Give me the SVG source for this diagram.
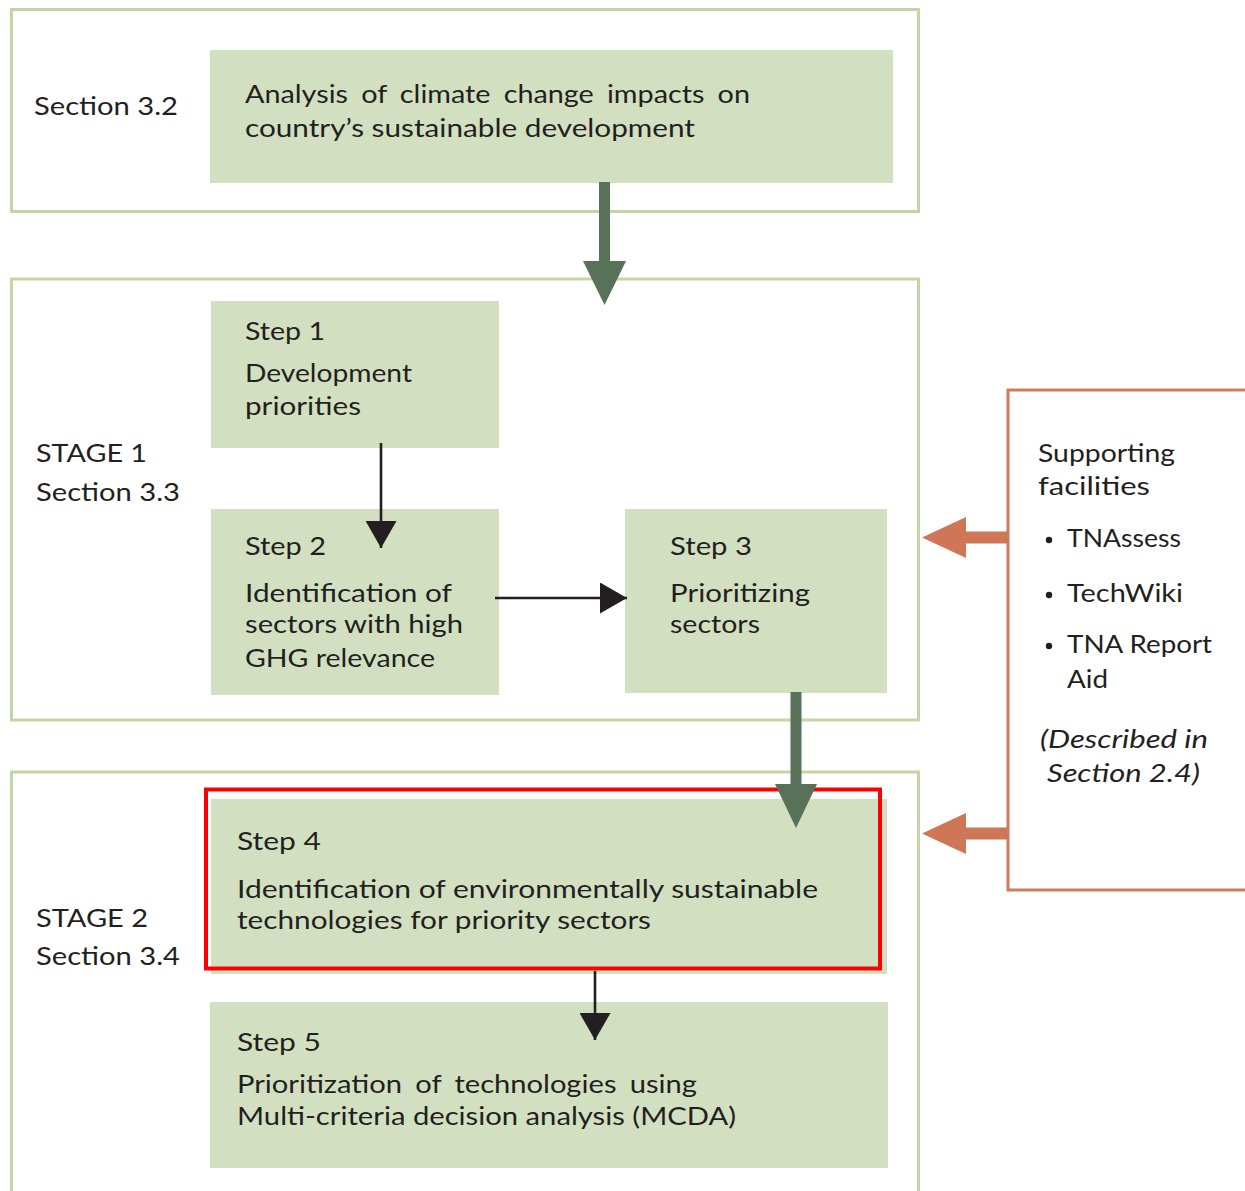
<svg xmlns="http://www.w3.org/2000/svg" width="1245" height="1191" viewBox="0 0 1245 1191">
<style>
  .frame { fill: #ffffff; stroke: #c3d5a2; stroke-width: 3; }
  .box { fill: #d3dfc1; }
  .t { font-family: Lato, "Open Sans", "DejaVu Sans", sans-serif; font-size: 25px; fill: #231f20; }
  .it { font-style: italic; }
  .ws { word-spacing: 5px; }
  .conn { stroke: #231f20; stroke-width: 2.6; fill: none; }
  .garrow { fill: #58725a; }
  .oarrow { fill: #cf7657; }
  .support { fill: #ffffff; stroke: #d27a5c; stroke-width: 3; }
  .hl { fill: none; stroke: #ff0000; stroke-width: 4; }
</style>
<defs>
  <marker id="ah" viewBox="0 0 27 31" refX="27" refY="15.5" markerWidth="27" markerHeight="31" markerUnits="userSpaceOnUse" orient="auto">
    <path d="M0,0 L27,15.5 L0,31 Z" fill="#231f20"/>
  </marker>
</defs>
<rect width="1245" height="1191" fill="#ffffff"/>

<g id="frame-section32">
  <rect class="frame" x="11.5" y="9.5" width="907" height="202"/>
  <text class="t" x="34" y="115" textLength="144" lengthAdjust="spacingAndGlyphs">Section 3.2</text>
</g>
<g id="node-analysis">
  <rect class="box" x="210" y="50" width="683" height="133"/>
  <text class="t ws" x="245" y="103" textLength="505" lengthAdjust="spacingAndGlyphs">Analysis of climate change impacts on</text>
  <text class="t" x="245" y="137" textLength="450" lengthAdjust="spacingAndGlyphs">country’s sustainable development</text>
</g>

<g id="frame-stage1">
  <rect class="frame" x="11.5" y="279" width="907" height="441"/>
  <text class="t" x="36" y="462" textLength="111" lengthAdjust="spacingAndGlyphs">STAGE 1</text>
  <text class="t" x="36" y="501" textLength="144" lengthAdjust="spacingAndGlyphs">Section 3.3</text>
</g>
<g id="node-step1">
  <rect class="box" x="211" y="301" width="288" height="147"/>
  <text class="t" x="245" y="340" textLength="80" lengthAdjust="spacingAndGlyphs">Step 1</text>
  <text class="t" x="245" y="382" textLength="167" lengthAdjust="spacingAndGlyphs">Development</text>
  <text class="t" x="245" y="415" textLength="116" lengthAdjust="spacingAndGlyphs">priorities</text>
</g>
<g id="node-step2">
  <rect class="box" x="211" y="509" width="288" height="186"/>
  <text class="t" x="245" y="555" textLength="81" lengthAdjust="spacingAndGlyphs">Step 2</text>
  <text class="t" x="245" y="602" textLength="207" lengthAdjust="spacingAndGlyphs">Identification of</text>
  <text class="t" x="245" y="633" textLength="218" lengthAdjust="spacingAndGlyphs">sectors with high</text>
  <text class="t" x="245" y="667" textLength="190" lengthAdjust="spacingAndGlyphs">GHG relevance</text>
</g>
<g id="node-step3">
  <rect class="box" x="625" y="509" width="262" height="184"/>
  <text class="t" x="670" y="555" textLength="82" lengthAdjust="spacingAndGlyphs">Step 3</text>
  <text class="t" x="670" y="602" textLength="140" lengthAdjust="spacingAndGlyphs">Prioritizing</text>
  <text class="t" x="670" y="633" textLength="90" lengthAdjust="spacingAndGlyphs">sectors</text>
</g>

<g id="frame-stage2">
  <rect class="frame" x="11.5" y="772" width="907" height="450"/>
  <text class="t" x="36" y="927" textLength="112" lengthAdjust="spacingAndGlyphs">STAGE 2</text>
  <text class="t" x="36" y="965" textLength="144" lengthAdjust="spacingAndGlyphs">Section 3.4</text>
</g>
<g id="node-step4">
  <rect class="box" x="211" y="799" width="676" height="175"/>
  <rect class="hl" x="206" y="789.5" width="674" height="179"/>
  <text class="t" x="237" y="850" textLength="84" lengthAdjust="spacingAndGlyphs">Step 4</text>
  <text class="t" x="237" y="898" textLength="581" lengthAdjust="spacingAndGlyphs">Identification of environmentally sustainable</text>
  <text class="t" x="237" y="929" textLength="414" lengthAdjust="spacingAndGlyphs">technologies for priority sectors</text>
</g>
<g id="node-step5">
  <rect class="box" x="210" y="1002" width="678" height="166"/>
  <text class="t" x="237" y="1051" textLength="84" lengthAdjust="spacingAndGlyphs">Step 5</text>
  <text class="t ws" x="237" y="1093" textLength="460" lengthAdjust="spacingAndGlyphs">Prioritization of technologies using</text>
  <text class="t" x="237" y="1125" textLength="499" lengthAdjust="spacingAndGlyphs">Multi-criteria decision analysis (MCDA)</text>
</g>

<g id="node-support">
  <rect class="support" x="1008" y="390" width="260" height="500"/>
  <text class="t" x="1038" y="462" textLength="137" lengthAdjust="spacingAndGlyphs">Supporting</text>
  <text class="t" x="1038" y="495" textLength="112" lengthAdjust="spacingAndGlyphs">facilities</text>
  <circle cx="1049" cy="540" r="3.2" fill="#231f20"/>
  <text class="t" x="1067" y="547" textLength="114" lengthAdjust="spacingAndGlyphs">TNAssess</text>
  <circle cx="1049" cy="595" r="3.2" fill="#231f20"/>
  <text class="t" x="1067" y="602" textLength="116" lengthAdjust="spacingAndGlyphs">TechWiki</text>
  <circle cx="1049" cy="646" r="3.2" fill="#231f20"/>
  <text class="t" x="1067" y="653" textLength="145" lengthAdjust="spacingAndGlyphs">TNA Report</text>
  <text class="t" x="1067" y="688" textLength="41" lengthAdjust="spacingAndGlyphs">Aid</text>
  <text class="t it" x="1040" y="748" textLength="168" lengthAdjust="spacingAndGlyphs">(Described in</text>
  <text class="t it" x="1047" y="782" textLength="153" lengthAdjust="spacingAndGlyphs">Section 2.4)</text>
</g>

<g id="connectors">
  <polygon class="garrow" points="599,182 610,182 610,261 626,261 604.5,305 583,261 599,261"/>
  <polygon class="garrow" points="790.5,692 801.5,692 801.5,784 817,784 796,828 775,784 790.5,784"/>
  <line class="conn" x1="381" y1="443" x2="381" y2="548" marker-end="url(#ah)"/>
  <line class="conn" x1="495" y1="598" x2="627" y2="598" marker-end="url(#ah)"/>
  <line class="conn" x1="595" y1="971" x2="595" y2="1040" marker-end="url(#ah)"/>
  <polygon class="oarrow" points="1008,531.5 966,531.5 966,517 922,537.5 966,558 966,543.5 1008,543.5"/>
  <polygon class="oarrow" points="1008,827.5 966,827.5 966,813 922,833.5 966,854 966,839.5 1008,839.5"/>
</g>
</svg>
